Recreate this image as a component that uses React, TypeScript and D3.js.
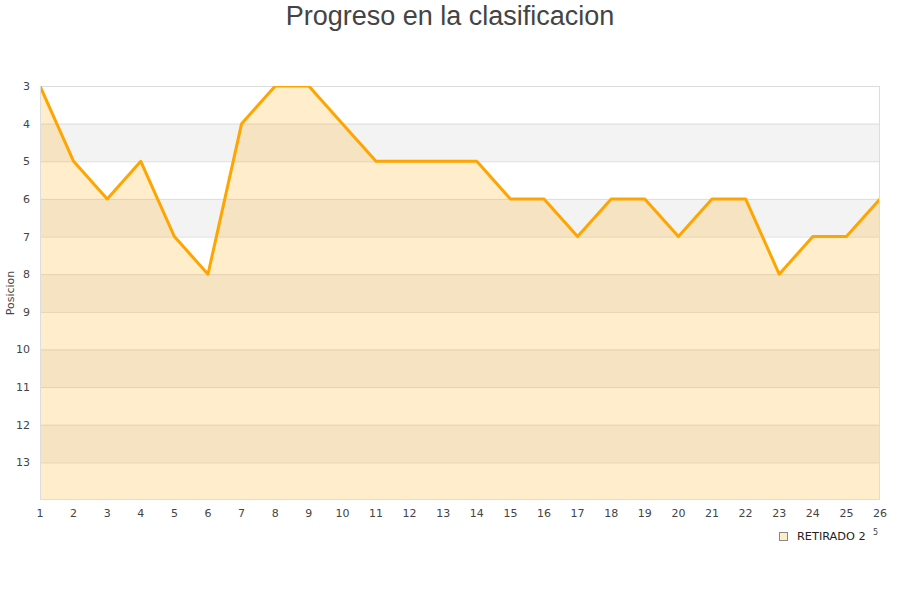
import React, { useEffect, useRef } from 'react'
import { select, scaleLinear, area, line, range, curveLinear } from 'd3'

const rounds = range(1, 27)
const positions = [3, 5, 6, 5, 7, 8, 4, 3, 3, 4, 5, 5, 5, 5, 6, 6, 7, 6, 6, 7, 6, 6, 8, 7, 7, 6]
const yTicks = [3, 4, 5, 6, 7, 8, 9, 10, 11, 12, 13]
const seriesName = 'RETIRADO 2'
const titleText = 'Progreso en la clasificacion'
const yLabel = 'Posicion'

const W = 900
const H = 600
const left = 40
const right = 880
const top = 86
const bottom = 500

const App = () => {
    const svgRef = useRef<SVGSVGElement | null>(null)

    useEffect(() => {
        if (svgRef.current === null) {
            return
        }
        const svg = select(svgRef.current)
        svg.selectAll('*').remove()

        const x = scaleLinear().domain([1, 26]).range([left, right])
        const y = scaleLinear().domain([3, 14]).range([top, bottom])

        // alternating bands
        const bands = range(3, 14)
        svg.append('g')
            .selectAll('rect')
            .data(bands)
            .join('rect')
            .attr('x', left)
            .attr('width', right - left)
            .attr('y', d => y(d))
            .attr('height', d => y(d + 1) - y(d))
            .attr('fill', d => (d % 2 === 0 ? '#f3f3f3' : '#ffffff'))

        // grid lines
        svg.append('g')
            .selectAll('line')
            .data(range(3, 14))
            .join('line')
            .attr('x1', left)
            .attr('x2', right)
            .attr('y1', d => y(d) + 0.5)
            .attr('y2', d => y(d) + 0.5)
            .attr('stroke', '#dddddd')
            .attr('stroke-width', 1)

        svg.append('defs')
            .append('clipPath')
            .attr('id', 'plot-clip')
            .append('rect')
            .attr('x', left)
            .attr('y', top)
            .attr('width', right - left)
            .attr('height', bottom - top)

        const pts: [number, number][] = rounds.map((r, i) => [r, positions[i]])

        const areaGen = area<[number, number]>()
            .x(d => x(d[0]))
            .y0(y(14))
            .y1(d => y(d[1]))
            .curve(curveLinear)

        const lineGen = line<[number, number]>()
            .x(d => x(d[0]))
            .y(d => y(d[1]))

        const plot = svg.append('g').attr('clip-path', 'url(#plot-clip)')
        plot.append('path')
            .attr('d', areaGen(pts))
            .attr('fill', '#ffa500')
            .attr('fill-opacity', 0.2)

        plot.append('path')
            .attr('d', lineGen(pts))
            .attr('fill', 'none')
            .attr('stroke', '#ffa500')
            .attr('stroke-width', 3)
            .attr('stroke-linejoin', 'round')

        // axis frame
        svg.append('line')
            .attr('x1', left + 0.5).attr('x2', left + 0.5)
            .attr('y1', top).attr('y2', bottom)
            .attr('stroke', '#dddddd')
        svg.append('line')
            .attr('x1', right - 0.5).attr('x2', right - 0.5)
            .attr('y1', top).attr('y2', bottom)
            .attr('stroke', '#dddddd')
        svg.append('line')
            .attr('x1', left).attr('x2', right)
            .attr('y1', bottom - 0.5).attr('y2', bottom - 0.5)
            .attr('stroke', '#dddddd')

        const font = 'DejaVu Sans, sans-serif'

        svg.append('g')
            .selectAll('text')
            .data(yTicks)
            .join('text')
            .attr('x', 30)
            .attr('y', d => y(d) + 4)
            .attr('text-anchor', 'end')
            .attr('font-family', font)
            .attr('font-size', 11)
            .attr('fill', '#444444')
            .text(d => d)

        svg.append('g')
            .selectAll('text')
            .data(rounds)
            .join('text')
            .attr('x', d => x(d))
            .attr('y', 517)
            .attr('text-anchor', 'middle')
            .attr('font-family', font)
            .attr('font-size', 11)
            .attr('fill', '#444444')
            .text(d => d)

        svg.append('text')
            .attr('transform', `translate(14,${(top + bottom) / 2}) rotate(-90)`)
            .attr('text-anchor', 'middle')
            .attr('font-family', font)
            .attr('font-size', 11)
            .attr('fill', '#444444')
            .text(yLabel)

        svg.append('text')
            .attr('x', W / 2)
            .attr('y', 25)
            .attr('text-anchor', 'middle')
            .attr('font-family', 'Liberation Sans, Arial, sans-serif')
            .attr('font-size', 27)
            .attr('fill', '#444444')
            .text(titleText)

        // legend
        svg.append('rect')
            .attr('x', 779.5)
            .attr('y', 532.5)
            .attr('width', 8)
            .attr('height', 8)
            .attr('fill', '#ffecc9')
            .attr('stroke', '#888888')
        svg.append('text')
            .attr('x', 797)
            .attr('y', 540)
            .attr('font-family', font)
            .attr('font-size', 11.3)
            .attr('fill', '#222222')
            .text(seriesName)
        svg.append('text')
            .attr('x', 873)
            .attr('y', 535)
            .attr('font-family', font)
            .attr('font-size', 8)
            .attr('fill', '#444444')
            .text('5')
    }, [])

    return (
        <svg
            ref={svgRef}
            width={W}
            height={H}
            style={{ position: 'absolute', left: 0, top: 0, background: '#ffffff' }}
        />
    )
}

export default App
